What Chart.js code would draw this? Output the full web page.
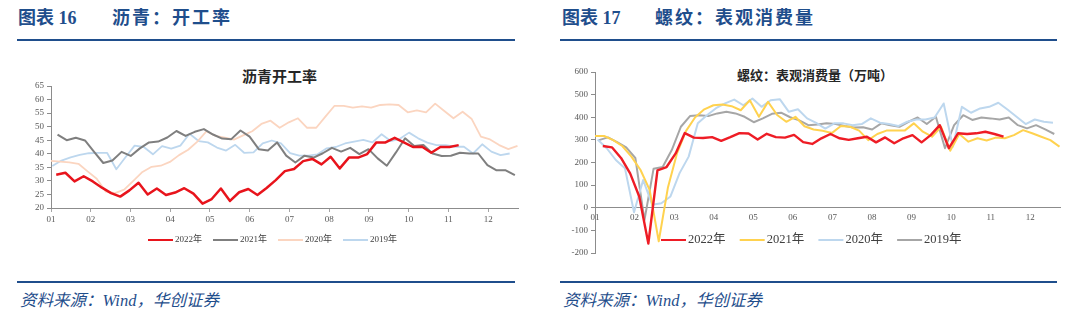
<!DOCTYPE html>
<html lang="zh-CN">
<head>
<meta charset="utf-8">
<title>沥青开工率 / 螺纹表观消费量</title>
<script src="https://cdn.jsdelivr.net/npm/chart.js@4.4.1/dist/chart.umd.min.js"></script>
<style>
  html, body { margin: 0; padding: 0; background: #fff; }
  body {
    width: 1080px; height: 326px; position: relative; overflow: hidden;
    font-family: "Liberation Serif", "Noto Sans CJK SC", serif;
  }
  .head { position: absolute; top: 6px; font-size: 18px; font-weight: 700; color: #1f4e8c; line-height: 24px; white-space: nowrap; }
  .head.name { letter-spacing: 2px; }
  .rule { position: absolute; height: 2px; background: #1f4e8c; }
  .source { position: absolute; top: 290px; font-size: 16.5px; font-style: italic; color: #1f4e8c; line-height: 22px; white-space: nowrap; }
  .ctitle { position: absolute; font-weight: 700; color: #262626; white-space: nowrap; line-height: 16px; }
  canvas { position: absolute; }
</style>
</head>
<body>
<div class="head" style="left:18px">图表 16</div>
<div class="head name" style="left:112px">沥青：开工率</div>
<div class="rule" style="left:17px; top:39px; width:498px"></div>
<div class="ctitle" style="left:242px; top:69px; font-size:15px">沥青开工率</div>
<canvas id="asphaltChart" width="540" height="200" style="left:0; top:60px"></canvas>
<div class="rule" style="left:17px; top:281px; width:498px"></div>
<div class="source" style="left:20px">资料来源：Wind，华创证券</div>

<div class="head" style="left:562px">图表 17</div>
<div class="head name" style="left:655px">螺纹：表观消费量</div>
<div class="rule" style="left:560px; top:39px; width:497px"></div>
<div class="ctitle" style="left:737px; top:68px; font-size:13px">螺纹：表观消费量（万吨）</div>
<canvas id="rebarChart" width="540" height="215" style="left:540px; top:50px"></canvas>
<div class="rule" style="left:560px; top:281px; width:497px"></div>
<div class="source" style="left:563px">资料来源：Wind，华创证券</div>

<script>
const MONTHS = ["01", "02", "03", "04", "05", "06", "07", "08", "09", "10", "11", "12"];
const YEARS = ["2022年", "2021年", "2020年", "2019年"];

// weekly asphalt operating rate (%), first reading of each year
const ASPHALT_START = [5, 6, 1, 2];
const ASPHALT_2022 = [32.3, 33.0, 29.8, 31.7, 29.8, 27.5, 25.5, 24.2, 26.5, 29.3, 25.0, 27.2, 24.8, 25.7, 27.3, 25.3,
  21.6, 23.3, 27.2, 22.6, 25.8, 27.0, 24.8, 27.4, 30.3, 33.6, 34.4, 37.3, 38.1, 36.1, 38.9, 34.6, 38.6, 38.6, 39.9,
  44.2, 44.2, 45.9, 44.2, 42.5, 42.6, 40.4, 42.5, 42.5, 43.2];
const ASPHALT_2021 = [47.1, 45.0, 45.9, 44.9, 40.7, 36.6, 37.5, 40.7, 39.2, 42.0, 44.2, 44.5, 46.0, 48.4, 46.6, 48.1,
  49.1, 47.1, 45.6, 45.4, 48.6, 46.3, 41.7, 41.2, 44.2, 39.3, 36.8, 39.3, 38.6, 40.2, 42.2, 40.8, 42.2, 39.9, 41.7,
  38.3, 35.6, 40.5, 45.7, 42.9, 43.2, 40.1, 39.2, 39.3, 40.4, 40.1, 40.1, 35.8, 33.9, 33.9, 32.1];
const ASPHALT_2020 = [37.4, 37.1, 36.8, 36.3, 33.5, 30.8, 26.0, 25.5, 26.8, 30.0, 33.3, 35.2, 35.6, 37.0, 39.5, 41.5,
  44.5, 48.3, 46.6, 46.0, 45.2, 46.8, 48.3, 51.0, 52.2, 49.6, 51.6, 53.1, 49.6, 49.6, 53.7, 57.7, 57.7, 57.0, 57.5,
  57.0, 58.0, 58.2, 58.0, 55.3, 56.0, 55.3, 58.5, 55.8, 53.1, 55.5, 52.8, 46.3, 45.3, 43.2, 41.7, 42.9];
const ASPHALT_2019 = [35.5, 37.5, 38.7, 39.6, 40.2, 40.3, 40.3, 34.3, 38.7, 43.0, 42.5, 39.8, 42.8, 41.9, 43.0, 47.4,
  44.7, 44.2, 42.3, 41.2, 43.3, 40.3, 40.5, 43.8, 44.9, 43.8, 40.2, 39.3, 39.3, 39.8, 42.0, 42.5, 43.8, 44.5, 45.1,
  44.2, 47.2, 44.7, 45.5, 47.8, 45.7, 44.1, 43.2, 43.2, 42.6, 42.6, 40.1, 43.5, 40.8, 39.5, 40.1];

// weekly rebar apparent consumption (10k t)
const REBAR_START = [7, 1, 3, 4];
const REBAR_2022 = [273, 267, 220, 152, 50, -158, 165, 180, 240, 330, 310, 308, 312, 296, 312, 330, 328, 302, 327,
  312, 310, 322, 290, 282, 307, 326, 307, 300, 307, 314, 289, 311, 285, 307, 321, 289, 321, 365, 263, 329, 326, 329,
  336, 326, 314];
const REBAR_2021 = [317, 317, 299, 273, 226, 167, 79, -148, 88, 240, 340, 400, 435, 453, 456, 449, 431, 475, 402, 468,
  410, 380, 402, 360, 346, 340, 330, 361, 358, 341, 299, 326, 341, 341, 341, 373, 336, 314, 358, 252, 326, 292, 307,
  297, 310, 307, 321, 343, 329, 314, 299, 270];
const REBAR_2020 = [302, 263, 211, 175, -20, 123, 13, 20, 50, 153, 226, 373, 409, 440, 461, 478, 453, 483, 446, 475,
  480, 424, 435, 395, 375, 350, 373, 373, 365, 370, 395, 376, 370, 361, 380, 390, 390, 399, 461, 270, 446, 420, 439,
  446, 464, 434, 402, 370, 390, 380, 376];
const REBAR_2019 = [299, 311, 290, 267, 220, -55, 172, 180, 255, 358, 405, 409, 405, 417, 424, 417, 402, 378, 395, 415,
  420, 400, 386, 365, 368, 373, 370, 361, 355, 356, 346, 373, 365, 358, 380, 399, 370, 402, 263, 365, 409, 388, 399,
  395, 390, 399, 365, 351, 365, 346, 326];

const DAYS_PER_MONTH = 365 / 12;
const tickFont = { family: '"Liberation Serif", serif', size: 9 };

function weekly(values, firstDay) {
  return values.map((y, i) => ({ x: (firstDay - 1 + 7 * i) / DAYS_PER_MONTH, y }));
}

function series(label, values, firstDay, color, width) {
  return {
    label,
    data: weekly(values, firstDay),
    borderColor: color,
    backgroundColor: color,
    borderWidth: width,
    pointRadius: 0,
    tension: 0,
    borderJoinStyle: "round",
  };
}

const lineLegend = {
  id: "lineLegend",
  afterDraw(chart, args, opts) {
    const { ctx } = chart;
    ctx.save();
    ctx.font = opts.font;
    ctx.textBaseline = "middle";
    let x = opts.x;
    chart.data.datasets.forEach((ds) => {
      ctx.strokeStyle = ds.borderColor;
      ctx.lineWidth = opts.lineWidth;
      ctx.beginPath();
      ctx.moveTo(x, opts.y);
      ctx.lineTo(x + opts.lineLength, opts.y);
      ctx.stroke();
      ctx.fillStyle = opts.color;
      ctx.fillText(ds.label, x + opts.lineLength + 2, opts.y);
      x += opts.step;
    });
    ctx.restore();
  },
};

function monthAxis(extra) {
  return Object.assign({
    type: "linear",
    min: 0,
    max: 11.75,
    afterBuildTicks: (axis) => {
      axis.ticks = MONTHS.map((_, i) => ({ value: i }));
    },
    ticks: {
      callback: (value) => MONTHS[value] ?? "",
      color: "#595959",
      font: tickFont,
      autoSkip: false,
      maxRotation: 0,
      padding: 2,
    },
    grid: { drawOnChartArea: false, drawTicks: true, tickLength: 4, color: "#a6a6a6" },
    border: { display: true, color: "#8c8c8c" },
  }, extra);
}

function valueAxis(min, max, step, width) {
  return {
    min,
    max,
    afterFit: (axis) => { axis.width = width; },
    ticks: { stepSize: step, autoSkip: false, color: "#595959", font: tickFont, padding: 3 },
    grid: { drawOnChartArea: false, drawTicks: true, tickLength: 4, color: "#8c8c8c" },
    border: { display: true, color: "#8c8c8c" },
  };
}

function baseOptions(padding, legend) {
  return {
    responsive: false,
    animation: false,
    devicePixelRatio: 1,
    layout: { padding },
    plugins: {
      legend: { display: false },
      tooltip: { enabled: false },
      lineLegend: legend,
    },
  };
}

const asphaltOptions = baseOptions({ left: 0, top: 26, right: 22, bottom: 32 }, {
  x: 148, y: 180, step: 65, lineLength: 25, lineWidth: 2,
  font: '9px "Liberation Serif", "Noto Sans CJK SC", serif', color: "#404040",
});
asphaltOptions.scales = {
  x: monthAxis({ afterFit: (axis) => { axis.height = 20; } }),
  y: valueAxis(20, 65, 5, 51),
};

new Chart(document.querySelector("#asphaltChart"), {
  type: "line",
  data: {
    datasets: [
      series(YEARS[0], ASPHALT_2022, ASPHALT_START[0], "#e8141c", 2.5),
      series(YEARS[1], ASPHALT_2021, ASPHALT_START[1], "#7f7f7f", 2),
      series(YEARS[2], ASPHALT_2020, ASPHALT_START[2], "#fbd5c0", 1.8),
      series(YEARS[3], ASPHALT_2019, ASPHALT_START[3], "#bdd7ee", 1.8),
    ],
  },
  options: asphaltOptions,
  plugins: [lineLegend],
});

const rebarOptions = baseOptions({ left: 0, top: 22, right: 20, bottom: 12 }, {
  x: 121, y: 190, step: 78.7, lineLength: 25, lineWidth: 2,
  font: '12.5px "Liberation Serif", "Noto Sans CJK SC", serif', color: "#404040",
});
rebarOptions.scales = {
  x: monthAxis({
    position: { y: 0 },
    grid: { drawOnChartArea: false, drawTicks: false, color: "#a6a6a6" },
  }),
  y: valueAxis(-200, 600, 100, 55),
};
rebarOptions.scales.x.ticks.padding = 4;

new Chart(document.querySelector("#rebarChart"), {
  type: "line",
  data: {
    datasets: [
      series(YEARS[0], REBAR_2022, REBAR_START[0], "#ee1c25", 2.4),
      series(YEARS[1], REBAR_2021, REBAR_START[1], "#ffd24f", 2),
      series(YEARS[2], REBAR_2020, REBAR_START[2], "#bdd7ee", 2),
      series(YEARS[3], REBAR_2019, REBAR_START[3], "#a6a6a6", 2),
    ],
  },
  options: rebarOptions,
  plugins: [lineLegend],
});
</script>
</body>
</html>
